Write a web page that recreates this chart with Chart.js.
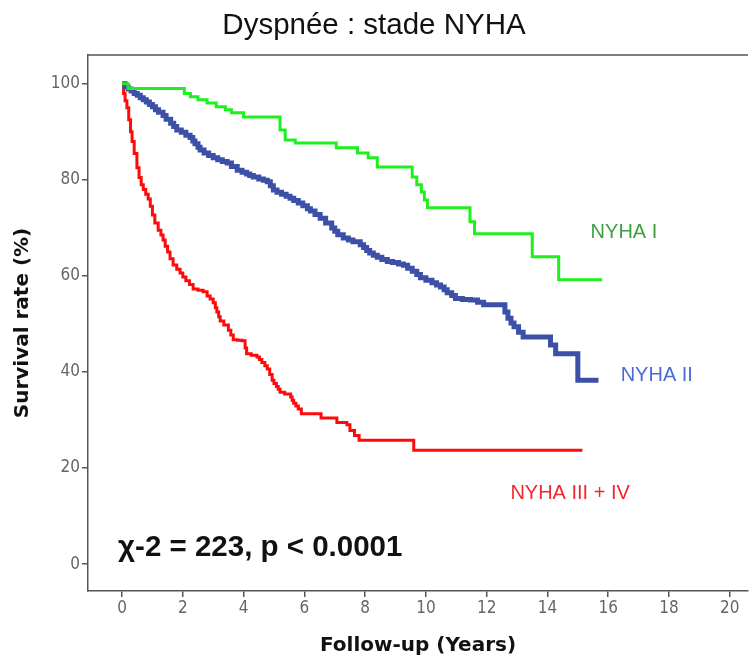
<!DOCTYPE html>
<html>
<head>
<meta charset="utf-8">
<script src="https://cdn.jsdelivr.net/npm/chart.js@4.4.1/dist/chart.umd.min.js"></script>
<style>
  html, body { margin: 0; padding: 0; background: #fff; }
  #wrap { width: 752px; height: 658px; }
</style>
</head>
<body>
<div id="wrap"><canvas id="km"></canvas></div>
<script>
// tick labels
const xTicks = [0, 2, 4, 6, 8, 10, 12, 14, 16, 18, 20];
const yTicks = [0, 20, 40, 60, 80, 100];

// courbes de survie (temps en annees, survie en %)
const timesI = [0, 0.2, 2.05, 2.25, 2.5, 2.8, 3.1, 3.4, 3.6, 4.0, 5.2, 5.37, 5.7, 7.05, 7.75, 8.1, 8.4, 9.55, 9.7, 9.85, 9.95, 10.05, 11.45, 11.6, 13.5, 14.37, 15.8];
const survI  = [100, 99, 98, 97.3, 96.7, 96, 95.2, 94.6, 94, 93.1, 90.4, 88.3, 87.7, 86.7, 85.6, 84.6, 82.7, 80.6, 79, 77.5, 75.8, 74.2, 71.3, 68.8, 64, 59.2, 59.2];

const timesII = [0, 0.1, 0.2, 0.3, 0.4, 0.5, 0.6, 0.7, 0.8, 0.9, 1.0, 1.1, 1.2, 1.35, 1.45, 1.6, 1.7, 1.8, 1.95, 2.1, 2.24, 2.33, 2.4, 2.5, 2.57, 2.7, 2.85, 3.0, 3.15, 3.3, 3.46, 3.6, 3.79, 3.95, 4.1, 4.2, 4.32, 4.5, 4.65, 4.78, 4.88, 4.98, 5.1, 5.25, 5.4, 5.53, 5.65, 5.8, 5.95, 6.1, 6.2, 6.35, 6.52, 6.7, 6.9, 7.0, 7.1, 7.28, 7.45, 7.6, 7.84, 7.95, 8.05, 8.15, 8.27, 8.4, 8.55, 8.73, 8.9, 9.1, 9.26, 9.4, 9.55, 9.7, 9.82, 10.0, 10.2, 10.35, 10.48, 10.6, 10.7, 10.85, 10.97, 11.2, 11.47, 11.7, 11.9, 12.6, 12.7, 12.8, 12.9, 13.05, 13.2, 14.1, 14.27, 15.0, 15.68];
const survII  = [100, 99.4, 98.9, 98.5, 98, 97.6, 97.1, 96.7, 96.2, 95.7, 95.2, 94.6, 94.1, 93.4, 92.6, 91.8, 91.1, 90.4, 89.9, 89.3, 88.8, 88.1, 87.5, 86.8, 86.2, 85.6, 85.1, 84.6, 84.2, 83.8, 83.5, 82.8, 82, 81.6, 81.2, 80.9, 80.6, 80.2, 79.9, 79.6, 78.8, 77.9, 77.4, 77, 76.6, 76.2, 75.7, 75.2, 74.6, 74, 73.5, 72.8, 72, 71, 70, 69.3, 68.6, 67.9, 67.5, 67.1, 66.5, 65.9, 65.3, 64.8, 64.3, 63.9, 63.4, 63, 62.8, 62.5, 62.2, 61.6, 61, 60.3, 59.6, 59.1, 58.6, 58.1, 57.7, 57.1, 56.5, 55.9, 55.3, 55.1, 55, 54.5, 54, 52.5, 51.2, 50.2, 49.4, 48.3, 47.3, 45.6, 43.8, 38.3, 38.3];

const timesIII = [0, 0.05, 0.1, 0.16, 0.22, 0.28, 0.33, 0.4, 0.49, 0.56, 0.63, 0.7, 0.78, 0.86, 0.93, 1.0, 1.08, 1.19, 1.28, 1.35, 1.42, 1.5, 1.58, 1.68, 1.8, 1.91, 2.0, 2.1, 2.22, 2.34, 2.5, 2.67, 2.8, 2.9, 3.0, 3.07, 3.12, 3.18, 3.23, 3.35, 3.5, 3.58, 3.66, 3.8, 3.95, 4.05, 4.1, 4.25, 4.44, 4.52, 4.6, 4.7, 4.78, 4.86, 4.94, 5.0, 5.08, 5.14, 5.2, 5.35, 5.55, 5.6, 5.65, 5.72, 5.8, 5.9, 6.55, 7.07, 7.4, 7.5, 7.65, 7.8, 9.6, 15.15];
const survIII  = [100, 98, 96.5, 95, 92.5, 90, 88, 85.5, 82.5, 80.5, 79, 78, 77, 76, 74.5, 72.7, 71, 69.5, 68.5, 67.5, 66.2, 65, 63.6, 62.3, 61.4, 60.6, 59.8, 59, 58.2, 57.3, 57, 56.7, 55.8, 55.2, 54.4, 53.4, 52.5, 51.5, 50.6, 49.8, 48.7, 47.7, 46.7, 46.6, 46.5, 45, 43.8, 43.5, 43.1, 42.6, 42, 41.3, 40.6, 39.5, 38.3, 37.6, 37, 36.4, 35.8, 35.4, 34.8, 34.1, 33.5, 32.9, 32.3, 31.3, 30.4, 29.5, 29, 27.8, 26.8, 25.8, 23.7, 23.7];

const groups = ['NYHA I', 'NYHA II', 'NYHA III + IV'];

// texte dans le graphique : [texte, x, y, couleur, police]
const notes = [
  ['NYHA I', 15.42, 69, '#3f9f3f', '20px "Liberation Sans", Arial, sans-serif'],
  ['NYHA II', 16.41, 39.2, '#4a6bd6', '20px "Liberation Sans", Arial, sans-serif'],
  ['NYHA III + IV', 12.78, 14.8, '#f0282d', '20px "Liberation Sans", Arial, sans-serif'],
  ['\u03c7-2 = 223, p < 0.0001', -0.13, 3.3, '#111', 'bold 29.5px "Liberation Sans", Arial, sans-serif']
];

const pts = (t, s) => t.map((v, i) => ({x: v, y: s[i]}));

const notesPlugin = {
  id: 'notes',
  afterDraw(chart) {
    const ctx = chart.ctx, a = chart.chartArea;
    const xs = chart.scales.x, ys = chart.scales.y;
    ctx.save();
    // ligne du haut du cadre
    ctx.strokeStyle = '#555';
    ctx.lineWidth = 1.5;
    ctx.beginPath();
    ctx.moveTo(a.left, a.top);
    ctx.lineTo(a.right, a.top);
    ctx.stroke();
    ctx.textBaseline = 'middle';
    ctx.textAlign = 'left';
    notes.forEach(n => {
      ctx.fillStyle = n[3];
      ctx.font = n[4];
      ctx.fillText(n[0], xs.getPixelForValue(n[1]), ys.getPixelForValue(n[2]));
    });
    ctx.restore();
  }
};

const tickFont = {family: '"Liberation Sans Narrow", "DejaVu Sans Condensed", Arial, sans-serif', size: 17};
const axisTitleFont = {family: '"DejaVu Sans", Arial, sans-serif', size: 20, weight: 'bold'};

new Chart(document.getElementById('km'), {
  type: 'line',
  data: {
    datasets: [
      {label: groups[0], data: pts(timesI, survI), borderColor: '#1ef01e', borderWidth: 3, stepped: true, pointRadius: 0},
      {label: groups[1], data: pts(timesII, survII), borderColor: '#3c50a8', borderWidth: 5, stepped: true, pointRadius: 0},
      {label: groups[2], data: pts(timesIII, survIII), borderColor: '#ff0a0a', borderWidth: 3, stepped: true, pointRadius: 0}
    ]
  },
  options: {
    responsive: true,
    maintainAspectRatio: false,
    animation: false,
    layout: {padding: {left: 0, right: 4, top: 0, bottom: 0}},
    plugins: {
      legend: {display: false},
      tooltip: {enabled: false},
      title: {
        display: true,
        text: 'Dyspnée : stade NYHA',
        color: '#111',
        font: {family: '"Liberation Sans", Arial, sans-serif', size: 29.5, weight: 'normal', lineHeight: 1.2},
        padding: {top: 8, bottom: 11.6}
      }
    },
    scales: {
      x: {
        type: 'linear',
        min: -1.12,
        max: 20.6,
        afterBuildTicks: s => { s.ticks = xTicks.map(v => ({value: v})); },
        afterFit: s => { s.height = 67; },
        grid: {drawOnChartArea: false, drawTicks: true, tickLength: 6, color: '#555', lineWidth: 1.5},
        border: {display: true, color: '#555', width: 1.5},
        ticks: {color: '#666', font: tickFont, padding: 1, maxRotation: 0, autoSkip: false},
        title: {display: true, text: 'Follow-up (Years)', color: '#111', font: axisTitleFont, padding: {top: 0, bottom: 0}}
      },
      y: {
        type: 'linear',
        min: -5.6,
        max: 106,
        afterBuildTicks: s => { s.ticks = yTicks.map(v => ({value: v})); },
        afterFit: s => { s.width = 88; },
        grid: {drawOnChartArea: false, drawTicks: true, tickLength: 6, color: '#555', lineWidth: 1.5},
        border: {display: true, color: '#555', width: 1.5},
        ticks: {color: '#666', font: tickFont, padding: 2},
        title: {display: true, text: 'Survival rate (%)', color: '#111', font: axisTitleFont, padding: {top: 11, bottom: 0}}
      }
    }
  },
  plugins: [notesPlugin]
});
</script>
</body>
</html>
